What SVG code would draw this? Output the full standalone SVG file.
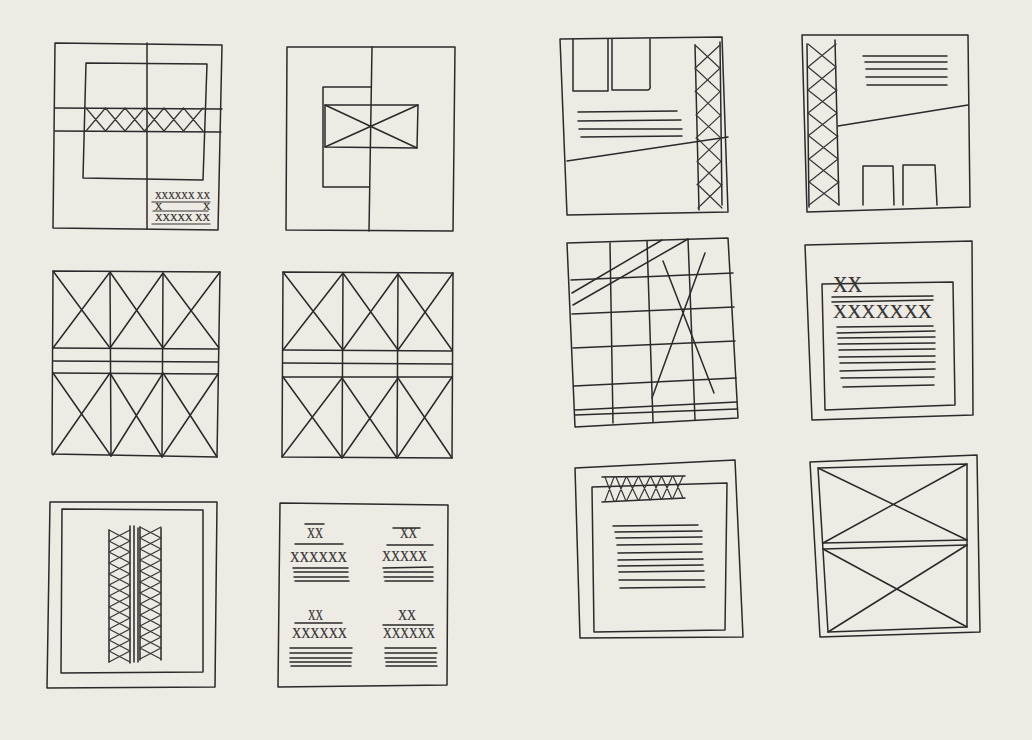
<svg xmlns="http://www.w3.org/2000/svg" width="1032" height="740" viewBox="0 0 1032 740">
<style>
.s{fill:none;stroke:#2a2a2a;stroke-width:1.5;stroke-linecap:round;stroke-linejoin:round}
.f{fill:none;stroke:#363636;stroke-width:1.2;stroke-linecap:round}
.t{font-family:"Liberation Serif","Times New Roman",serif;fill:#333;stroke:#333;stroke-width:0.2}
</style>
<rect width="1032" height="740" fill="#eeeae4"/>

<g id="thumb1">
<polygon class="s" points="55,43 222,45 218,230 53,228"/>
<path class="s" d="M147 43L147 229"/>
<polygon class="s" points="86,63 207,64 203,180 83,178"/>
<path class="s" d="M55 108L222 109M55 131L221 132"/>
<path class="f" d="M86 108L105.5 131M105.5 108L86 131M105.5 108L125 131M125 108L105.5 131M125 108L144.5 131M144.5 108L125 131M144.5 108L164 131M164 108L144.5 131M164 108L183.5 131M183.5 108L164 131M183.5 108L203 131M203 108L183.5 131"/>
<text class="t" x="155" y="199" font-size="10" textLength="55" lengthAdjust="spacingAndGlyphs">XXXXXX XX</text>
<path class="f" d="M152 202L210 202M153 211L208 211M152 224L210 224"/>
<text class="t" x="155" y="210" font-size="10">X</text>
<text class="t" x="203" y="210" font-size="10">X</text>
<text class="t" x="155" y="221" font-size="10" textLength="55" lengthAdjust="spacingAndGlyphs">XXXXX XX</text>
</g>

<g id="thumb2">
<polygon class="s" points="287,47 455,47 453,231 286,230"/>
<path class="s" d="M372 47L369 231"/>
<path class="s" d="M371 87L323 87L323 187L369 187"/>
<polygon class="s" points="325,105 418,105 417,148 325,147"/>
<path class="s" d="M325 105L417 148M418 105L325 147"/>
</g>

<g id="thumb3">
<polygon class="s" points="560,39 722,37 728,212 567,215"/>
<path class="s" d="M573 39L573 91L608 91L608 39M612 39L612 90L648 90Q651 89 650 85L650 39"/>
<path class="s" d="M578 112L677 111M578 121L681 120M579 129L682 129M581 137L682 136"/>
<path class="s" d="M567 161L728 137"/>
<path class="s" d="M695 45L699 210M720 42L722 205"/>
<path class="f" d="M695 45L720 68.3M720 45L695 68.3M695 68.3L720 91.6M720 68.3L695 91.6M696 91.6L720 114.9M720 91.6L696 114.9M696 114.9L721 138.1M721 114.9L696 138.1M697 138.1L721 161.4M721 138.1L697 161.4M697 161.4L721 184.7M721 161.4L697 184.7M698 184.7L722 208M722 184.7L698 208"/>
</g>

<g id="thumb4">
<polygon class="s" points="802,35 968,35 970,207 807,212"/>
<path class="s" d="M807 44L809 207M835 40L839 205"/>
<path class="f" d="M808 44L836 67M836 44L808 67M808 67L836 90M836 67L808 90M808 90L837 113M837 90L808 113M808 113L837 136M837 113L808 136M809 136L838 159M838 136L809 159M809 159L838 182M838 159L809 182M809 182L839 205M839 182L809 205"/>
<path class="s" d="M863 56L947 56M865 62L947 62M866 69L947 69M866 77L947 77M867 85L947 85"/>
<path class="s" d="M838 126L968 105"/>
<path class="s" d="M863 205L863 166L893 166L894 205M903 205L903 165L935 165L937 205"/>
</g>

<g id="thumb5">
<polygon class="s" points="53,271 220,272 217,457 52,454"/>
<path class="s" d="M110 272L111 456M163 273L162 457"/>
<path class="s" d="M53 348L218 349M53 361L218 362M53 373L218 374"/>
<path class="s" d="M53 271L110 348M110 272L53 348M110 272L163 348M163 273L110 348M163 273L219 348M220 272L163 348"/>
<path class="s" d="M53 373L111 456M110 373L53 455M110 373L162 457M163 373L111 456M163 373L217 457M218 374L162 457"/>
</g>

<g id="thumb6">
<polygon class="s" points="283,272 453,273 452,458 282,457"/>
<path class="s" d="M343 273L342 458M398 274L397 458"/>
<path class="s" d="M283 350L452 351M283 363L452 364M283 377L452 377"/>
<path class="s" d="M283 272L343 350M343 273L283 350M343 273L398 350M398 274L343 350M398 274L452 350M453 273L398 350"/>
<path class="s" d="M283 377L342 458M342 378L282 457M342 378L397 458M398 378L342 458M398 378L452 458M452 377L397 458"/>
</g>

<g id="thumb7">
<polygon class="s" points="567,243 728,238 738,418 575,427"/>
<path class="s" d="M610 243L613 423M647 241L653 422M688 239L695 420"/>
<path class="s" d="M571 280L733 273M572 314L734 307M573 348L735 341M574 386L736 378M575 410L737 402M575 415L737 409"/>
<path class="s" d="M572 293L662 240M573 305L688 239"/>
<path class="s" d="M663 261L714 393M705 253L652 398"/>
</g>

<g id="thumb8">
<polygon class="s" points="805,245 972,241 973,415 812,420"/>
<polygon class="s" points="822,284 953,282 955,405 825,410"/>
<text class="t" x="833" y="292" font-size="24" textLength="29" lengthAdjust="spacingAndGlyphs">XX</text>
<path class="s" d="M832 297L933 296M832 302L933 300"/>
<text class="t" x="833" y="318" font-size="18" textLength="99" lengthAdjust="spacingAndGlyphs">XXXXXXX</text>
<path class="s" d="M837 327L933 326M837 333L935 331M838 338L935 337M838 344L935 343M839 350L935 349M839 357L935 356M840 363L935 362M840 371L935 369M841 378L934 377M843 387L934 385"/>
</g>

<g id="thumb9">
<polygon class="s" points="50,502 217,502 215,687 47,688"/>
<polygon class="s" points="62,509 203,510 203,672 61,673"/>
<path class="s" d="M109 530L109 662M130 526L130 663M134 526L134 662M138 528L138 662M140 527L140 660M161 528L161 660"/>
<path class="f" d="M109 530L130 541M130 530L109 541M109 541L130 552M130 541L109 552M109 552L130 563M130 552L109 563M109 563L130 574M130 563L109 574M109 574L130 585M130 574L109 585M109 585L130 596M130 585L109 596M109 596L130 607M130 596L109 607M109 607L130 618M130 607L109 618M109 618L130 629M130 618L109 629M109 629L130 640M130 629L109 640M109 640L130 651M130 640L109 651M109 651L130 662M130 651L109 662"/>
<path class="f" d="M140 527L161 538M161 527L140 538M140 538L161 549M161 538L140 549M140 549L161 560M161 549L140 560M140 560L161 571M161 560L140 571M140 571L161 582M161 571L140 582M140 582L161 593M161 582L140 593M140 593L161 604M161 593L140 604M140 604L161 615M161 604L140 615M140 615L161 626M161 615L140 626M140 626L161 637M161 626L140 637M140 637L161 648M161 637L140 648M140 648L161 659M161 648L140 659"/>
</g>

<g id="thumb10">
<polygon class="s" points="280,503 448,505 447,685 278,687"/>
<text class="t" x="307" y="538" font-size="15" textLength="16" lengthAdjust="spacingAndGlyphs">XX</text>
<path class="s" d="M305 524L324 524M295 544L343 544"/>
<text class="t" x="290" y="562" font-size="15" textLength="57" lengthAdjust="spacingAndGlyphs">XXXXXX</text>
<path class="s" d="M293 568L348 568M294 572L348 572M294 577L348 577M295 581L349 581"/>
<path class="s" d="M393 528L420 528M387 545L433 545"/>
<text class="t" x="400" y="538" font-size="15" textLength="17" lengthAdjust="spacingAndGlyphs">XX</text>
<text class="t" x="382" y="561" font-size="15" textLength="45" lengthAdjust="spacingAndGlyphs">XXXXX</text>
<path class="s" d="M383 568L433 567M384 572L433 572M384 577L433 577M385 581L433 581"/>
<text class="t" x="308" y="620" font-size="14" textLength="15" lengthAdjust="spacingAndGlyphs">XX</text>
<path class="s" d="M295 623L342 623"/>
<text class="t" x="292" y="638" font-size="15" textLength="55" lengthAdjust="spacingAndGlyphs">XXXXXX</text>
<path class="s" d="M290 648L352 648M290 653L352 653M290 658L351 658M290 662L351 662M291 666L351 666"/>
<text class="t" x="398" y="620" font-size="14" textLength="18" lengthAdjust="spacingAndGlyphs">XX</text>
<path class="s" d="M383 625L433 625"/>
<text class="t" x="383" y="638" font-size="15" textLength="52" lengthAdjust="spacingAndGlyphs">XXXXXX</text>
<path class="s" d="M385 648L436 648M385 653L437 653M385 658L436 658M386 662L436 662M386 666L437 666"/>
</g>

<g id="thumb11">
<polygon class="s" points="575,468 735,460 743,637 580,638"/>
<polygon class="s" points="592,487 727,483 725,630 594,632"/>
<path class="s" d="M602 477L685 476M602 502L685 498"/>
<path class="f" d="M605 477L614 501M614 477L605 501M616 477L626 501M626 477L616 501M627 477L638 500M638 477L627 500M639 477L650 500M650 477L639 500M651 477L661 499M661 477L651 499M662 477L672 499M672 477L662 499M673 476L683 498M683 476L673 498"/>
<path class="s" d="M613 526L698 525M615 532L702 531M616 538L702 537M617 545L702 544M618 553L702 552M618 560L703 559M618 566L703 565M619 572L704 571M619 580L704 580M620 588L705 587"/>
</g>

<g id="thumb12">
<polygon class="s" points="810,462 977,455 980,632 820,637"/>
<polygon class="s" points="818,468 967,464 967,627 828,632"/>
<path class="s" d="M823 543L967 540M823 549L967 545"/>
<path class="s" d="M818 468L967 540M967 464L823 543M823 549L967 627M967 545L828 632"/>
</g>
</svg>
